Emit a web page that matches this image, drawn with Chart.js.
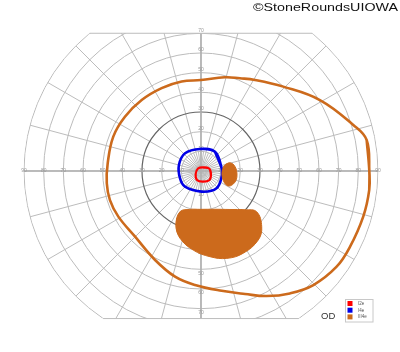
<!DOCTYPE html>
<html>
<head>
<meta charset="utf-8">
<script src="https://cdn.jsdelivr.net/npm/chart.js@4.4.0/dist/chart.umd.min.js"></script>
<style>
  html, body { margin: 0; padding: 0; background: #fff; }
  #wrap { width: 400px; height: 352px; position: relative; }
</style>
</head>
<body>
<div id="wrap"><canvas id="field"></canvas></div>
<script>
// Goldmann visual field, right eye.
// Isopters as (meridian angle, eccentricity) in degrees,
// angle 0 = right, counter-clockwise.
const iii4eAngle = [0, 10.6, 16.8, 30.8, 45.7, 59.3, 67.2, 75.6, 90, 102.2, 115.4, 129.9, 144.5, 158.6, 175.3,
                    187.4, 197.7, 208.9, 224.9, 242.7, 256.2, 267, 279.8, 289.7, 297.7, 306, 314.6, 324.8, 333, 344.3, 353.6];
const iii4eEcc = [85.6, 85.7, 80.9, 70.4, 59.9, 53.8, 51.1, 49.2, 46.2, 46.5, 46.6, 47.0, 47.5, 47.9, 47.6,
                  48.3, 48.6, 48.0, 47.3, 50.9, 55.3, 58.0, 61.8, 66.4, 71.8, 76.9, 81.4, 84.4, 85.0, 85.7, 86.1];

const i4eAngle = [8, 54, 92.6, 132, 165, 199, 224.5, 272, 312, 349];
const i4eEcc = [10.6, 12.1, 11.2, 12.1, 11.6, 11.3, 11.4, 10.5, 11.8, 10.9];

const i2eAngle = [17, 61.6, 140, 209.5, 246, 280.6, 313, 343];
const i2eEcc = [4.3, 2.1, 2.0, 3.1, 5.0, 5.5, 6.3, 5.3];

// scotomas (III4e not seen), points in drawing order
const scotomaSmallAngle = [15.9, 10.3, 356.8, 342, 331, 342, 10.1];
const scotomaSmallEcc = [14.8, 17.0, 18.3, 18.2, 15.7, 11.5, 11.6];

const scotomaLargeAngle = [245.2, 242.7, 254, 268.5, 290, 307, 318.6, 323.8, 317.5, 309.7, 297.2, 286.4, 276, 264.4, 252.7];
const scotomaLargeEcc = [30.3, 23.3, 20.3, 19.5, 20.7, 24.5, 29.8, 35.1, 41.9, 45.6, 47.0, 46.3, 43.8, 40.4, 35.8];

const ringDegrees = [10, 20, 30, 40, 50, 60, 70, 80, 90];
const hTickLabels = ['10', '20', '30', '40', '50', '60', '70', '80', '90'];
const vTickLabels = ['10', '20', '30', '40', '50', '60', '70'];
const fieldTop = 70;
const fieldBottom = -75;

const legendLabels = ['I2e', 'I4e', 'III4e'];
const legendColors = ['#ff0000', '#0000e6', '#cc6a1c'];

function toXY(angles, ecc) {
  const pts = angles.map((a, i) => ({
    x: ecc[i] * Math.cos(a * Math.PI / 180),
    y: ecc[i] * Math.sin(a * Math.PI / 180)
  }));
  // wrap around so the spline closes smoothly
  return [pts[pts.length - 1], ...pts, pts[0], pts[1]];
}

const gridPlugin = {
  id: 'perimeterGrid',
  beforeDatasetsDraw(chart) {
    const { ctx, scales: { x, y } } = chart;
    const cx = x.getPixelForValue(0), cy = y.getPixelForValue(0);
    const unit = x.getPixelForValue(1) - cx;
    const R = 90 * unit;
    const topY = y.getPixelForValue(fieldTop), botY = y.getPixelForValue(fieldBottom);
    const gridColor = '#bcbcbc';

    ctx.save();
    ctx.beginPath();
    ctx.arc(cx, cy, R + 0.6, 0, Math.PI * 2);
    ctx.clip();
    ctx.beginPath();
    ctx.rect(0, topY, chart.width, botY - topY);
    ctx.clip();

    // meridians
    ctx.strokeStyle = gridColor;
    ctx.lineWidth = 1;
    for (let a = 0; a < 360; a += 15) {
      const r = a * Math.PI / 180;
      ctx.beginPath();
      ctx.moveTo(cx, cy);
      ctx.lineTo(cx + R * Math.cos(r), cy - R * Math.sin(r));
      ctx.stroke();
    }
    for (let a = 7.5; a < 360; a += 15) {
      const r = a * Math.PI / 180;
      ctx.beginPath();
      ctx.moveTo(cx + 2 * unit * Math.cos(r), cy - 2 * unit * Math.sin(r));
      ctx.lineTo(cx + 10 * unit * Math.cos(r), cy - 10 * unit * Math.sin(r));
      ctx.stroke();
    }

    // rings
    ringDegrees.forEach(d => {
      ctx.beginPath();
      ctx.arc(cx, cy, d * unit, 0, Math.PI * 2);
      ctx.strokeStyle = d === 30 ? '#666' : gridColor;
      ctx.lineWidth = d === 30 ? 1.2 : 1;
      ctx.stroke();
    });

    // main axes
    ctx.strokeStyle = '#b0b0b0';
    ctx.lineWidth = 1.6;
    ctx.beginPath();
    ctx.moveTo(cx - R, cy); ctx.lineTo(cx + R, cy);
    ctx.moveTo(cx, topY); ctx.lineTo(cx, botY);
    ctx.stroke();
    ctx.restore();

    // top / bottom border
    ctx.save();
    ctx.strokeStyle = gridColor;
    ctx.lineWidth = 1;
    const wTop = Math.sqrt(90 * 90 - fieldTop * fieldTop) * unit;
    const wBot = Math.sqrt(90 * 90 - fieldBottom * fieldBottom) * unit;
    ctx.beginPath();
    ctx.moveTo(cx - wTop, topY); ctx.lineTo(cx + wTop, topY);
    ctx.moveTo(cx - wBot, botY); ctx.lineTo(cx + wBot, botY);
    ctx.stroke();

    // degree labels
    ctx.fillStyle = '#999';
    ctx.font = '5px "Liberation Sans", Arial, sans-serif';
    ctx.textAlign = 'center';
    ctx.textBaseline = 'middle';
    hTickLabels.forEach((t, i) => {
      const d = ringDegrees[i] * unit;
      ctx.fillText(t, cx + d, cy);
      ctx.fillText(t, cx - d, cy);
    });
    vTickLabels.forEach((t, i) => {
      const d = ringDegrees[i] * unit;
      ctx.fillText(t, cx, cy - d - 3);
      ctx.fillText(t, cx, cy + d + 4);
    });
    ctx.restore();
  },
  afterDraw(chart) {
    const { ctx } = chart;
    ctx.save();
    // legend box
    ctx.fillStyle = '#fff';
    ctx.strokeStyle = '#c8c8c8';
    ctx.lineWidth = 1;
    ctx.fillRect(345.5, 299.5, 27.5, 22.5);
    ctx.strokeRect(345.5, 299.5, 27.5, 22.5);
    ctx.font = '4.5px "Liberation Sans", Arial, sans-serif';
    ctx.textBaseline = 'middle';
    legendLabels.forEach((l, i) => {
      ctx.fillStyle = legendColors[i];
      ctx.fillRect(347.5, 301 + i * 6.7, 5, 5);
      ctx.fillStyle = '#555';
      ctx.fillText(l, 358, 303.6 + i * 6.7);
    });

    // eye
    ctx.fillStyle = '#333';
    ctx.font = '9.5px "Liberation Sans", Arial, sans-serif';
    ctx.textBaseline = 'alphabetic';
    ctx.fillText('OD', 321, 319);

    // credit
    const credit = '\u00A9StoneRoundsUIOWA';
    ctx.font = '11.5px "Liberation Sans", Arial, sans-serif';
    ctx.fillStyle = '#111';
    const w = ctx.measureText(credit).width;
    ctx.translate(253, 11);
    ctx.scale(145 / w, 1);
    ctx.fillText(credit, 0, 0);
    ctx.restore();
  }
};

const orange = '#cc6a1c';

new Chart(document.getElementById('field'), {
  type: 'scatter',
  data: {
    datasets: [
      {
        label: 'III4e',
        data: toXY(iii4eAngle, iii4eEcc),
        showLine: true,
        borderColor: orange,
        borderWidth: 2.6,
        pointRadius: 0,
        tension: 0.4
      },
      {
        label: 'III4e scotoma',
        data: toXY(scotomaLargeAngle, scotomaLargeEcc),
        showLine: true,
        borderColor: orange,
        backgroundColor: orange,
        borderWidth: 1,
        fill: 'shape',
        pointRadius: 0,
        tension: 0.4
      },
      {
        label: 'III4e scotoma 2',
        data: toXY(scotomaSmallAngle, scotomaSmallEcc),
        showLine: true,
        borderColor: orange,
        backgroundColor: orange,
        borderWidth: 1,
        fill: 'shape',
        pointRadius: 0,
        tension: 0.4
      },
      {
        label: 'I4e',
        data: toXY(i4eAngle, i4eEcc),
        showLine: true,
        borderColor: '#0000e6',
        borderWidth: 2.6,
        pointRadius: 0,
        tension: 0.4
      },
      {
        label: 'I2e',
        data: toXY(i2eAngle, i2eEcc),
        showLine: true,
        borderColor: '#ff0000',
        borderWidth: 2.2,
        pointRadius: 0,
        tension: 0.4
      }
    ]
  },
  options: {
    responsive: true,
    maintainAspectRatio: false,
    animation: false,
    layout: { padding: 0 },
    plugins: {
      legend: { display: false },
      tooltip: { enabled: false }
    },
    scales: {
      x: { type: 'linear', min: -102.2, max: 101.2, display: false },
      y: { type: 'linear', min: -92.0, max: 86.9, display: false }
    }
  },
  plugins: [gridPlugin]
});
</script>
</body>
</html>
